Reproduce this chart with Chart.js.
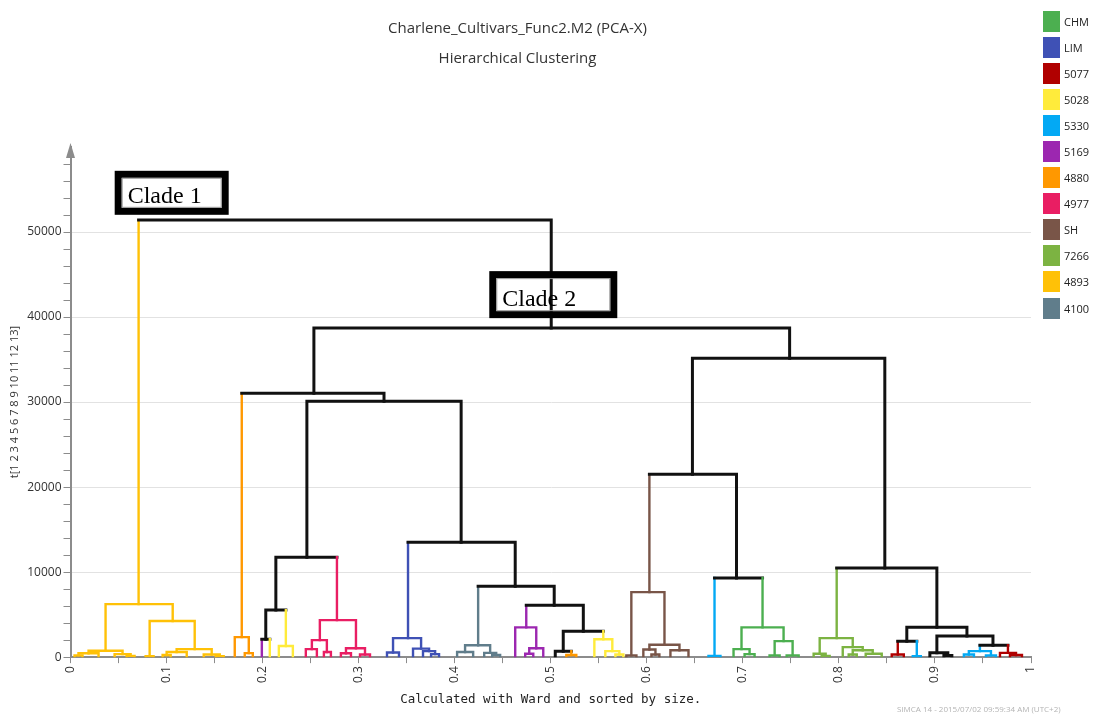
<!DOCTYPE html>
<html lang="en">
<head>
  <meta charset="UTF-8" />
  <title>Hierarchical Clustering</title>

  <!-- Chart.js library -->
  <script src="https://cdn.jsdelivr.net/npm/chart.js"></script>

  <style>
    * {
      margin: 0;
      padding: 0;
      box-sizing: border-box;
    }

    body {
      width: 1094px;
      height: 715px;
      overflow: hidden;
      position: relative;
      background-color: #fff;
      font-family: 'Open Sans', sans-serif;
    }

    #dendro {
      position: absolute;
      left: 0;
      top: 0;
    }

    /* Class legend on the right */
    .legend {
      position: absolute;
      left: 1043px;
      top: 8px;
    }

    .legend-item {
      display: flex;
      align-items: center;
      height: 26.1px;
    }

    .legend-item .swatch {
      width: 17px;
      height: 21px;
      margin-right: 4px;
    }

    .legend-item .name {
      font-size: 11px;
      color: #222;
    }

    .stamp {
      position: absolute;
      left: 897px;
      top: 703px;
      font-size: 8px;
      color: #b4b4b4;
      white-space: nowrap;
    }
  </style>
</head>

<body>
  <canvas id="dendro" width="1094" height="715"></canvas>
  <div class="legend" id="legend"></div>
  <div class="stamp">SIMCA 14 - 2015/07/02 09:59:34 AM (UTC+2)</div>

  <script>
    // Classes and their colours
    const groupNames = ['CHM', 'LIM', '5077', '5028', '5330', '5169', '4880', '4977', 'SH', '7266', '4893', '4100'];
    const groupColors = ['#4caf50', '#3f51b5', '#b00000', '#ffeb3b', '#03a9f4', '#9c27b0', '#ff9800', '#e91e63', '#795548', '#7cb342', '#ffc107', '#607d8b'];

    // Tick labels
    const xTickLabels = ['0', '0.1', '0.2', '0.3', '0.4', '0.5', '0.6', '0.7', '0.8', '0.9', '1'];
    const yTickLabels = [0, 10000, 20000, 30000, 40000, 50000];

    // Merges: [left x, right x, merge height, left child height, right child height, left class, right class]
    // 'mix' = cluster containing several classes
    const rootMerges = [
      [0.0709, 0.5005, 51400, 6230, 38700, '4893', 'mix'],
      [0.2534, 0.7487, 38700, 31050, 35160, 'mix', 'mix'],
    ];

    const clade1Merges = [
      [0.0365, 0.1064, 6230, 750, 4250, '4893', '4893'],
      [0.0188, 0.0542, 750, 450, 350, '4893', '4893'],
      [0.0083, 0.0292, 450, 200, 0, '4893', '4893'],
      [0.0042, 0.0125, 200, 0, 0, '4893', '4893'],
      [0.0459, 0.0626, 350, 0, 150, '4893', '4893'],
      [0.0584, 0.0667, 150, 0, 0, '4893', '4893'],
      [0.0824, 0.1293, 4250, 100, 940, '4893', '4893'],
      [0.0782, 0.0865, 100, 0, 0, '4893', '4893'],
      [0.1105, 0.1470, 940, 600, 300, '4893', '4893'],
      [0.1001, 0.1210, 600, 250, 0, '4893', '4893'],
      [0.0959, 0.1043, 250, 0, 0, '4893', '4893'],
      [0.1387, 0.1554, 300, 0, 120, '4893', '4893'],
      [0.1512, 0.1595, 120, 0, 0, '4893', '4893'],
    ];

    const clade2LeftMerges = [
      [0.1783, 0.3264, 31050, 2350, 30100, '4880', 'mix'],
      [0.1710, 0.1856, 2350, 0, 470, '4880', '4880'],
      [0.1814, 0.1898, 470, 0, 0, '4880', '4880'],
      [0.2461, 0.4067, 30100, 11760, 13500, 'mix', 'mix'],
      [0.2138, 0.2774, 11760, 5530, 4350, 'mix', '4977'],
      [0.2033, 0.2242, 5530, 2100, 1300, 'mix', '5028'],
      [0.1992, 0.2075, 2100, 0, 0, '5169', '5028'],
      [0.2169, 0.2315, 1300, 0, 0, '5028', '5028'],
      [0.2596, 0.2972, 4350, 2000, 1050, '4977', '4977'],
      [0.2513, 0.2669, 2000, 940, 600, '4977', '4977'],
      [0.2450, 0.2565, 940, 0, 0, '4977', '4977'],
      [0.2638, 0.2711, 600, 0, 0, '4977', '4977'],
      [0.2868, 0.3066, 1050, 450, 300, '4977', '4977'],
      [0.2815, 0.2920, 450, 0, 0, '4977', '4977'],
      [0.3014, 0.3118, 300, 0, 0, '4977', '4977'],
      [0.3514, 0.4630, 13500, 2230, 8350, 'LIM', 'mix'],
      [0.3358, 0.3650, 2230, 550, 1000, 'LIM', 'LIM'],
      [0.3295, 0.3420, 550, 0, 0, 'LIM', 'LIM'],
      [0.3566, 0.3733, 1000, 0, 700, 'LIM', 'LIM'],
      [0.3670, 0.3796, 700, 0, 350, 'LIM', 'LIM'],
      [0.3754, 0.3837, 350, 0, 0, 'LIM', 'LIM'],
      [0.4244, 0.5036, 8350, 1400, 6100, '4100', 'mix'],
      [0.4108, 0.4369, 1400, 600, 500, '4100', '4100'],
      [0.4025, 0.4192, 600, 0, 0, '4100', '4100'],
      [0.4307, 0.4432, 500, 0, 250, '4100', '4100'],
      [0.4390, 0.4473, 250, 0, 0, '4100', '4100'],
      [0.4745, 0.5339, 6100, 3500, 3050, '5169', 'mix'],
      [0.4630, 0.4849, 3500, 0, 1050, '5169', '5169'],
      [0.4776, 0.4922, 1050, 400, 0, '5169', '5169'],
      [0.4734, 0.4818, 400, 0, 0, '5169', '5169'],
      [0.5130, 0.5547, 3050, 700, 2100, 'mix', '5028'],
      [0.5047, 0.5214, 700, 0, 250, 'mix', '4880'],
      [0.5162, 0.5266, 250, 0, 0, '4880', '4880'],
      [0.5454, 0.5641, 2100, 0, 700, '5028', '5028'],
      [0.5568, 0.5714, 700, 0, 300, '5028', '5028'],
      [0.5673, 0.5756, 300, 0, 0, '5028', '5028'],
    ];

    const clade2RightMerges = [
      [0.6475, 0.8478, 35160, 21500, 10470, 'mix', 'mix'],
      [0.6027, 0.6934, 21500, 7650, 9300, 'SH', 'mix'],
      [0.5839, 0.6184, 7650, 200, 1450, 'SH', 'SH'],
      [0.5787, 0.5892, 200, 0, 0, 'SH', 'SH'],
      [0.6027, 0.6340, 1450, 900, 800, 'SH', 'SH'],
      [0.5964, 0.6090, 900, 0, 300, 'SH', 'SH'],
      [0.6048, 0.6131, 300, 0, 0, 'SH', 'SH'],
      [0.6246, 0.6434, 800, 0, 0, 'SH', 'SH'],
      [0.6705, 0.7205, 9300, 150, 3500, '5330', 'CHM'],
      [0.6642, 0.6767, 150, 0, 0, '5330', '5330'],
      [0.6986, 0.7424, 3500, 940, 1880, 'CHM', 'CHM'],
      [0.6903, 0.7070, 940, 0, 350, 'CHM', 'CHM'],
      [0.7018, 0.7122, 350, 0, 0, 'CHM', 'CHM'],
      [0.7331, 0.7518, 1880, 200, 200, 'CHM', 'CHM'],
      [0.7278, 0.7383, 200, 0, 0, 'CHM', 'CHM'],
      [0.7456, 0.7581, 200, 0, 0, 'CHM', 'CHM'],
      [0.7977, 0.9020, 10470, 2230, 3500, '7266', 'mix'],
      [0.7800, 0.8144, 2230, 400, 1180, '7266', '7266'],
      [0.7737, 0.7862, 400, 0, 150, '7266', '7266'],
      [0.7821, 0.7904, 150, 0, 0, '7266', '7266'],
      [0.8040, 0.8248, 1180, 0, 800, '7266', '7266'],
      [0.8144, 0.8352, 800, 300, 400, '7266', '7266'],
      [0.8102, 0.8186, 300, 0, 0, '7266', '7266'],
      [0.8279, 0.8446, 400, 0, 0, '7266', '7266'],
      [0.8707, 0.9333, 3500, 1880, 2470, 'mix', 'mix'],
      [0.8613, 0.8811, 1880, 300, 100, '5077', '5330'],
      [0.8550, 0.8676, 300, 0, 0, '5077', '5077'],
      [0.8769, 0.8853, 100, 0, 0, '5330', '5330'],
      [0.9020, 0.9604, 2470, 500, 1400, 'mix', 'mix'],
      [0.8947, 0.9134, 500, 0, 200, 'mix', 'mix'],
      [0.9093, 0.9176, 200, 0, 0, 'mix', 'mix'],
      [0.9468, 0.9760, 1400, 700, 500, '5330', '5077'],
      [0.9353, 0.9583, 700, 300, 200, '5330', '5330'],
      [0.9301, 0.9406, 300, 0, 0, '5330', '5330'],
      [0.9531, 0.9635, 200, 0, 0, '5330', '5330'],
      [0.9677, 0.9844, 500, 0, 250, '5077', '5077'],
      [0.9781, 0.9906, 250, 0, 0, '5077', '5077'],
    ];

    const colorOf = g => g === 'mix' ? '#111' : groupColors[groupNames.indexOf(g)];
    const widthOf = g => g === 'mix' ? 3 : 2.4;

    // One dataset per merge: left leg, bar, right leg
    const allMerges = [...rootMerges, ...clade1Merges, ...clade2LeftMerges, ...clade2RightMerges];
    const datasets = allMerges.map(([x1, x2, h, h1, h2, g1, g2]) => {
      const parts = [g1, g1 === g2 ? g1 : 'mix', g2];
      return {
        data: [{ x: x1, y: h1 }, { x: x1, y: h }, { x: x2, y: h }, { x: x2, y: h2 }],
        showLine: true,
        pointRadius: 0,
        borderWidth: 2.4,
        borderColor: colorOf(parts[1]),
        borderCapStyle: 'square',
        borderJoinStyle: 'miter',
        segment: {
          borderColor: c => colorOf(parts[c.p0DataIndex]),
          borderWidth: c => widthOf(parts[c.p0DataIndex])
        }
      };
    });

    // HTML legend
    const legendBox = document.getElementById('legend');
    groupNames.forEach((name, i) => {
      const item = document.createElement('div');
      item.className = 'legend-item';
      item.innerHTML = `<span class="swatch" style="background:${groupColors[i]}"></span><span class="name">${name}</span>`;
      legendBox.appendChild(item);
    });

    // Axis arrow and clade boxes
    const overlayPlugin = {
      id: 'overlay',
      afterDraw(chart, args, opts) {
        const { ctx, chartArea, scales } = chart;
        ctx.save();

        ctx.fillStyle = '#8c8c8c';
        ctx.beginPath();
        ctx.moveTo(chartArea.left, chartArea.top - 4);
        ctx.lineTo(chartArea.left - 4.5, chartArea.top + 11);
        ctx.lineTo(chartArea.left + 4.5, chartArea.top + 11);
        ctx.closePath();
        ctx.fill();

        opts.boxes.forEach(b => {
          const left = scales.x.getPixelForValue(b.x);
          const top = scales.y.getPixelForValue(b.y);
          ctx.lineWidth = 7;
          ctx.strokeStyle = '#000';
          ctx.strokeRect(left + 3.5, top + 3.5, b.w - 7, b.h - 7);
          ctx.lineWidth = 1;
          ctx.strokeStyle = '#999';
          ctx.strokeRect(left + 7.5, top + 7.5, b.w - 15, b.h - 15);
          ctx.font = '24px "Liberation Serif", serif';
          ctx.fillStyle = '#000';
          ctx.textBaseline = 'alphabetic';
          ctx.fillText(b.text, left + 13, top + b.h - 12);
        });
        ctx.restore();
      }
    };

    const ctx = document.getElementById('dendro').getContext('2d');
    new Chart(ctx, {
      type: 'scatter',
      data: { datasets },
      options: {
        responsive: false,
        animation: false,
        events: [],
        layout: {
          padding: { left: 4, right: 63, top: 14, bottom: 8 }
        },
        scales: {
          x: {
            type: 'linear',
            min: 0,
            max: 1,
            border: { color: '#8c8c8c', width: 2 },
            grid: { drawOnChartArea: false, tickLength: 6, tickColor: '#8c8c8c' },
            ticks: {
              stepSize: 0.05,
              autoSkip: false,
              minRotation: 90,
              maxRotation: 90,
              padding: 3,
              color: '#333',
              font: { family: 'Open Sans', size: 12 },
              callback: v => {
                const k = Math.round(v * 10);
                return Math.abs(v * 10 - k) < 1e-6 ? xTickLabels[k] : '';
              }
            },
            title: {
              display: true,
              text: 'Calculated with Ward and sorted by size.',
              color: '#222',
              font: { family: 'DejaVu Sans Mono', size: 12.5 },
              padding: { top: 6, bottom: 0 }
            }
          },
          y: {
            min: 0,
            max: 60000,
            border: { color: '#8c8c8c', width: 2 },
            grid: {
              color: c => (c.tick && c.tick.value > 0 && yTickLabels.includes(c.tick.value)) ? '#e2e2e2' : 'transparent',
              tickColor: c => (c.tick && c.tick.value >= 60000) ? 'transparent' : '#8c8c8c',
              tickLength: 7
            },
            ticks: {
              stepSize: 2000,
              autoSkip: false,
              padding: 2,
              color: '#333',
              font: { family: 'Open Sans', size: 12 },
              callback: v => yTickLabels.includes(v) ? String(v) : ''
            },
            title: {
              display: true,
              text: 't[1 2 3 4 5 6 7 8 9 10 11 12 13]',
              color: '#333',
              font: { family: 'Open Sans', size: 11 },
              padding: { top: 4, bottom: 4 }
            }
          }
        },
        plugins: {
          legend: { display: false },
          tooltip: { enabled: false },
          title: {
            display: true,
            text: ['Charlene_Cultivars_Func2.M2 (PCA-X)', 'Hierarchical Clustering'],
            color: '#333',
            font: { family: 'Open Sans', size: 15, weight: 'normal', lineHeight: 2 },
            padding: { top: 0, bottom: 73 }
          },
          overlay: {
            boxes: [
              { text: 'Clade 1', x: 0.046, y: 57200, w: 114, h: 44 },
              { text: 'Clade 2', x: 0.436, y: 45400, w: 128, h: 47 }
            ]
          }
        }
      },
      plugins: [overlayPlugin]
    });
  </script>
</body>
</html>
